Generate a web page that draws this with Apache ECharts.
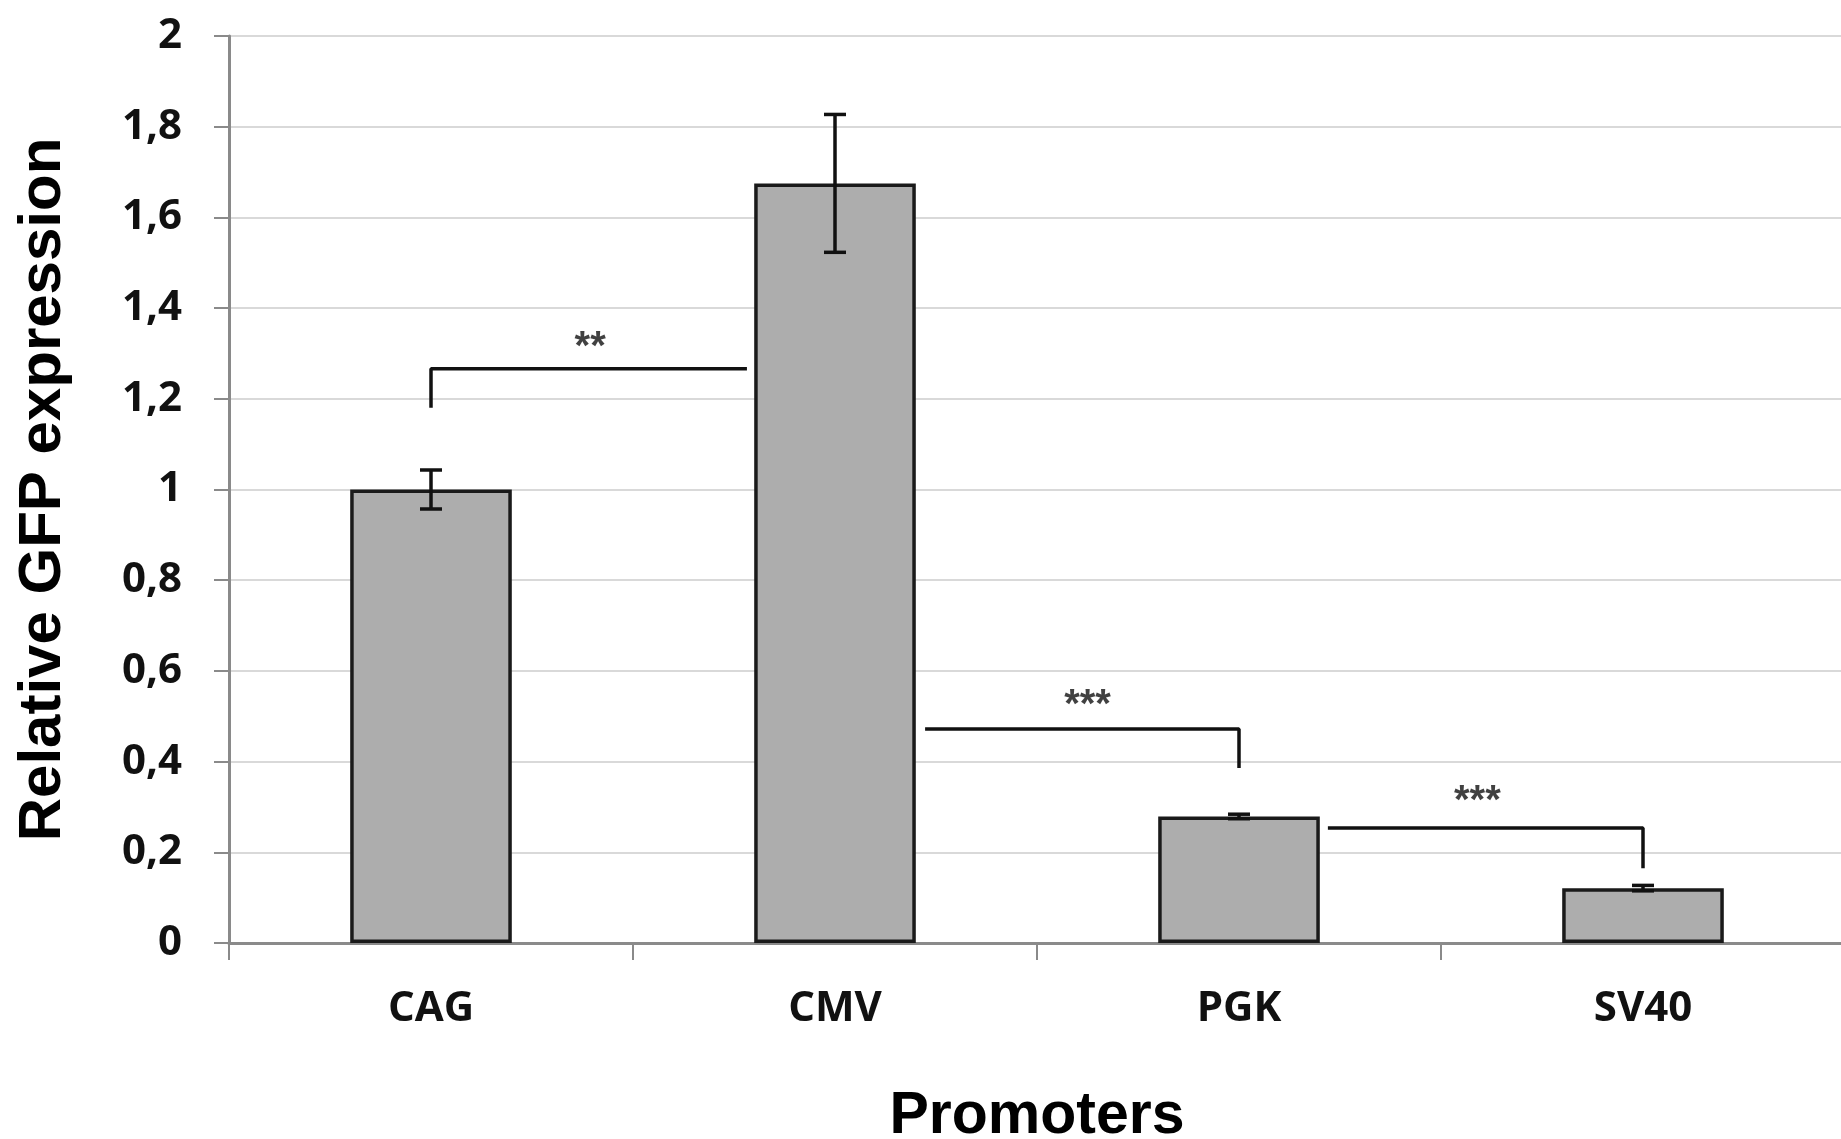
<!DOCTYPE html>
<html>
<head>
<meta charset="utf-8">
<script src="https://cdn.jsdelivr.net/npm/echarts@6/dist/echarts.min.js"></script>
<style>
html,body{margin:0;padding:0;background:#fff;}
#chart{width:1841px;height:1139px;}
</style>
</head>
<body>
<div id="chart"></div>
<script>
// ---- data ----
var categories = ['CAG', 'CMV', 'PGK', 'SV40'];
var expression = [1.0, 1.675, 0.279, 0.121];
var errors = [0.043, 0.152, 0.005, 0.006];
var yTickValues = [0, 0.2, 0.4, 0.6, 0.8, 1, 1.2, 1.4, 1.6, 1.8, 2];
var yTickLabels = ['0', '0,2', '0,4', '0,6', '0,8', '1', '1,2', '1,4', '1,6', '1,8', '2'];
// significance brackets: [x, y] in category-index units
var bracket1 = [[0, 1.18], [0, 1.266], [0.782, 1.266]];
var bracket2 = [[1.223, 0.472], [2.0, 0.472], [2.0, 0.386]];
var bracket3 = [[2.22, 0.2536], [3.0, 0.2536], [3.0, 0.165]];
var starLabels = ['**', '***', '***'];
var starPositions = [[0.394, 1.332], [1.625, 0.542], [2.59, 0.331]];

var chart = echarts.init(document.getElementById('chart'), null, {renderer: 'canvas'});

function yLabel(v) {
  for (var i = 0; i < yTickValues.length; i++) {
    if (Math.abs(yTickValues[i] - v) < 1e-6) return yTickLabels[i];
  }
  return '';
}

var bracketStyle = {color: '#111', width: 3.5};
function bracketSeries(data) {
  return {
    type: 'line', xAxisIndex: 1, yAxisIndex: 0, data: data,
    symbol: 'none', lineStyle: bracketStyle, z: 5, silent: true
  };
}

var option = {
  animation: false,
  backgroundColor: '#ffffff',
  grid: {left: 229, top: 36, bottom: 196, width: 1616, containLabel: false, outerBoundsMode: 'none'},
  xAxis: [{
    type: 'category',
    data: categories,
    name: 'Promoters',
    nameLocation: 'middle',
    nameGap: 144,
    nameTextStyle: {fontFamily: 'Liberation Sans', fontWeight: 'bold', fontSize: 59, color: '#000'},
    axisLine: {onZero: false, lineStyle: {color: '#8a8a8a', width: 3}},
    axisTick: {show: true, length: 17, lineStyle: {color: '#8a8a8a', width: 2}},
    axisLabel: {margin: 45, fontFamily: 'Open Sans', fontWeight: 'bold', fontSize: 42, color: '#111'},
    splitLine: {show: false}
  }, {
    type: 'value', min: -0.5, max: 3.5, show: false
  }],
  yAxis: [{
    type: 'value',
    min: 0, max: 2, interval: 0.2,
    name: 'Relative GFP expression',
    nameLocation: 'middle',
    nameGap: 156,
    nameRotate: 90,
    nameTextStyle: {fontFamily: 'Liberation Sans', fontWeight: 'bold', fontSize: 60, color: '#000'},
    axisLine: {show: true, onZero: false, lineStyle: {color: '#8a8a8a', width: 3}},
    axisTick: {show: true, length: 15, lineStyle: {color: '#8a8a8a', width: 2}},
    axisLabel: {margin: 47, fontFamily: 'Open Sans', fontWeight: 'bold', fontSize: 42, color: '#111', formatter: yLabel},
    splitLine: {show: true, lineStyle: {color: '#d9d9d9', width: 2}}
  }],
  series: [{
    type: 'bar',
    data: expression,
    barWidth: '40%',
    itemStyle: {color: '#adadad', borderColor: '#1a1a1a', borderWidth: 3.5},
    z: 2
  }, {
    type: 'custom',
    xAxisIndex: 0,
    data: expression.map(function (v, i) { return [i, v - errors[i], v + errors[i]]; }),
    renderItem: function (params, api) {
      var x = api.value(0);
      var lo = api.coord([x, api.value(1)]);
      var hi = api.coord([x, api.value(2)]);
      var hw = 11;
      var st = {stroke: '#111', lineWidth: 3.5};
      return {
        type: 'group',
        children: [
          {type: 'line', shape: {x1: lo[0], y1: lo[1], x2: hi[0], y2: hi[1]}, style: st},
          {type: 'line', shape: {x1: lo[0] - hw, y1: lo[1], x2: lo[0] + hw, y2: lo[1]}, style: st},
          {type: 'line', shape: {x1: hi[0] - hw, y1: hi[1], x2: hi[0] + hw, y2: hi[1]}, style: st}
        ]
      };
    },
    z: 4
  },
  bracketSeries(bracket1),
  bracketSeries(bracket2),
  bracketSeries(bracket3),
  {
    type: 'scatter',
    xAxisIndex: 1,
    symbolSize: 1,
    itemStyle: {color: 'rgba(0,0,0,0)'},
    data: starPositions.map(function (p, i) { return {value: p, name: starLabels[i]}; }),
    label: {
      show: true, position: 'inside', formatter: '{b}', offset: [0, 9],
      fontFamily: 'Liberation Sans', fontWeight: 'bold', fontSize: 40, color: '#111'
    },
    z: 6, silent: true
  }]
};
chart.setOption(option);
</script>
</body>
</html>
